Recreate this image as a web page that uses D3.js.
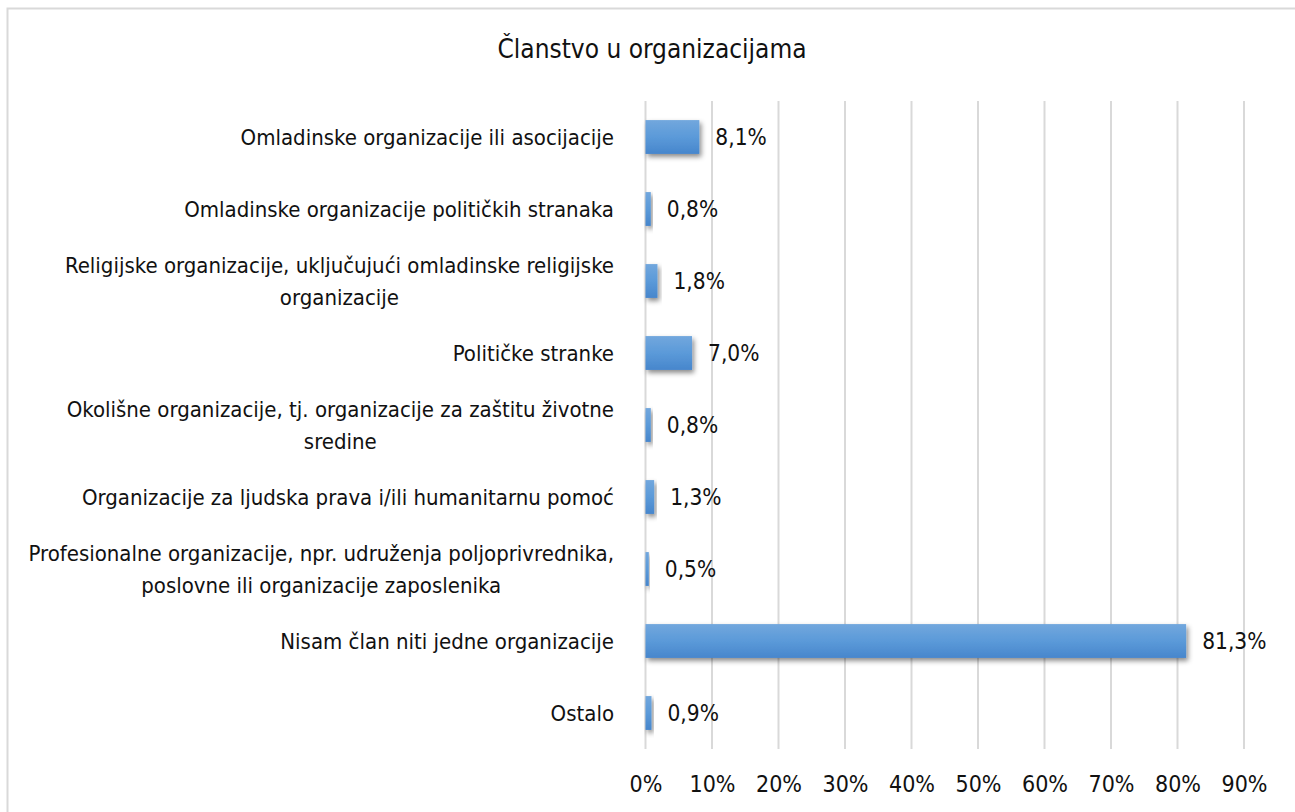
<!DOCTYPE html>
<html>
<head>
<meta charset="UTF-8">
<title>Članstvo u organizacijama</title>
<script src="https://d3js.org/d3.v7.min.js"></script>
<style>
  body { margin: 0; background: #fff; }
  svg text { font-family: "Liberation Sans Narrow", "DejaVu Sans Condensed", "Open Sans", sans-serif; font-stretch: condensed; fill: #111; }
</style>
</head>
<body>
<svg id="chart" width="1295" height="812"></svg>
<script>
// chart data
var title = "Članstvo u organizacijama";
var categories = [
  ["Omladinske organizacije ili asocijacije"],
  ["Omladinske organizacije političkih stranaka"],
  ["Religijske organizacije, uključujući omladinske religijske", "organizacije"],
  ["Političke stranke"],
  ["Okolišne organizacije, tj. organizacije za zaštitu životne", "sredine"],
  ["Organizacije za ljudska prava i/ili humanitarnu pomoć"],
  ["Profesionalne organizacije, npr. udruženja poljoprivrednika,", "poslovne ili organizacije zaposlenika"],
  ["Nisam član niti jedne organizacije"],
  ["Ostalo"]
];
var values = [8.1, 0.8, 1.8, 7.0, 0.8, 1.3, 0.5, 81.3, 0.9];
var tickValues = [0, 10, 20, 30, 40, 50, 60, 70, 80, 90];

var svg = d3.select("#chart");
var plot = {left: 645.5, right: 1244, top: 101, bottom: 749};

// frame
svg.append("rect")
  .attr("x", 7.5).attr("y", 8.5)
  .attr("width", 1300).attr("height", 820)
  .attr("fill", "#fff")
  .attr("stroke", "#d9d9d9").attr("stroke-width", 2);

// gradient + shadow for bars
var defs = svg.append("defs");
var grad = defs.append("linearGradient").attr("id", "barGrad")
  .attr("x1", 0).attr("y1", 0).attr("x2", 0).attr("y2", 1);
grad.append("stop").attr("offset", "0%").attr("stop-color", "#72a7dd");
grad.append("stop").attr("offset", "50%").attr("stop-color", "#5b9ad9");
grad.append("stop").attr("offset", "100%").attr("stop-color", "#4786cc");
var filt = defs.append("filter").attr("id", "shadow")
  .attr("x", "-20%").attr("y", "-30%").attr("width", "150%").attr("height", "180%");
filt.append("feDropShadow")
  .attr("dx", 2).attr("dy", 3).attr("stdDeviation", 2.5)
  .attr("flood-color", "#000").attr("flood-opacity", 0.45);

var x = d3.scaleLinear().domain([0, 90]).range([plot.left, plot.right]);
var y = d3.scaleBand().domain(d3.range(values.length))
  .range([plot.top, plot.bottom]).paddingInner(0.53).paddingOuter(0.265);

// title
svg.append("text")
  .attr("x", 652).attr("y", 58)
  .attr("text-anchor", "middle")
  .style("font-size", "26px")
  .text(title);

// gridlines
svg.append("g").selectAll("line").data(tickValues).enter().append("line")
  .attr("x1", function(d) { return x(d); })
  .attr("x2", function(d) { return x(d); })
  .attr("y1", plot.top).attr("y2", plot.bottom)
  .attr("stroke", "#d9d9d9").attr("stroke-width", 2);

// x axis labels
var xAxis = d3.axisBottom(x).tickValues(tickValues)
  .tickFormat(function(d) { return d + "%"; }).tickSize(0).tickPadding(0);
var gx = svg.append("g")
  .attr("transform", "translate(0," + (plot.bottom + 43) + ")")
  .call(xAxis);
gx.select(".domain").remove();
gx.selectAll("text").style("font-size", "23px").attr("dy", null)
  .style("font-family", null).attr("fill", null);

// bars
svg.append("g").selectAll("rect").data(values).enter().append("rect")
  .attr("x", x(0))
  .attr("y", function(d, i) { return y(i); })
  .attr("width", function(d) { return x(d) - x(0); })
  .attr("height", y.bandwidth())
  .attr("fill", "url(#barGrad)")
  .attr("filter", "url(#shadow)");

// value labels
svg.append("g").selectAll("text").data(values).enter().append("text")
  .attr("x", function(d) { return x(d) + 16; })
  .attr("y", function(d, i) { return y(i) + y.bandwidth() / 2 + 8; })
  .style("font-size", "22.5px")
  .text(function(d) { return d3.format(".1f")(d).replace(".", ",") + "%"; });

// category labels (lines centred inside a right-aligned block)
var labelRight = 614;
var lineH = 32;
var lab = svg.append("g");
categories.forEach(function(lines, i) {
  var cy = y(i) + y.bandwidth() / 2;
  var g = lab.append("g");
  var texts = lines.map(function(s, k) {
    return g.append("text")
      .attr("y", cy + 8 + (k - (lines.length - 1) / 2) * lineH)
      .attr("text-anchor", "middle")
      .style("font-size", "22px")
      .text(s);
  });
  var w = d3.max(texts, function(t) { return t.node().getComputedTextLength(); });
  texts.forEach(function(t) { t.attr("x", labelRight - w / 2); });
});
</script>
</body>
</html>
